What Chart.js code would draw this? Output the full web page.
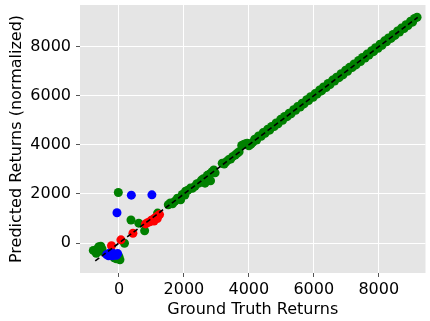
<!DOCTYPE html>
<html>
<head>
<meta charset="utf-8">
<script src="https://cdn.jsdelivr.net/npm/chart.js@4/dist/chart.umd.min.js"></script>
<style>
  html, body { margin: 0; padding: 0; background: #ffffff; }
  #wrap { width: 430px; height: 321px; }
</style>
</head>
<body>
<div id="wrap"><canvas id="grafico" width="430" height="321"></canvas></div>
<script>

// ticks dos eixos
const xTicks = [0, 2000, 4000, 6000, 8000];
const yTicks = [0, 2000, 4000, 6000, 8000];

// pontos verdes (retornos reais x previstos)
const verdeX = [
  -790, -720, -680, -620, -560, -700, -600, -520, -150, -80, 30, 0, 170, -20, 370, 610, 790, 1190,
  1520, 1580, 1650, 1720, 1800, 1880, 1900, 1950, 2030, 2050, 2120, 2200, 2260, 2340, 2400, 2480,
  2540, 2600, 2650, 2680, 2720, 2780, 2820, 2860, 2920, 2960, 3180, 3240, 3300, 3380, 3440, 3500,
  3580, 3640, 3700, 3780, 3840, 3900, 3950, 4000, 4060, 4120,
  4180, 4240, 4300, 4380, 4440, 4500, 4580, 4640, 4700, 4780, 4840, 4900, 4980, 5040, 5100, 5180,
  5240, 5300, 5380, 5440, 5500, 5580, 5640, 5700, 5780, 5840, 5900, 5980, 6040, 6100, 6180, 6240,
  6300, 6380, 6440, 6500, 6580, 6640, 6700, 6780, 6840, 6900, 6980, 7040, 7100, 7180, 7240, 7300,
  7380, 7440, 7500, 7580, 7640, 7700, 7780, 7840, 7900, 7980, 8040, 8100, 8180, 8240, 8300, 8380,
  8440, 8500, 8580, 8640, 8700, 8780, 8840, 8900, 8980, 9040, 9100, 9180
];
const verdeY = [
  -300, -350, -250, -150, -130, -420, -330, -250, -600, -640, -680, -560, -10, 2060, 940, 810, 500, 1220,
  1560, 1630, 1600, 1700, 1830, 1790, 1760, 1980, 1960, 2110, 2150, 2240, 2230, 2310, 2420, 2450,
  2560, 2620, 2440, 2650, 2760, 2800, 2540, 2900, 2980, 2860, 3250, 3220, 3310, 3400, 3420, 3520,
  3590, 3660, 3720, 3980, 4020, 4050, 4070, 3960, 4020, 4100,
  4230, 4200, 4360, 4350, 4500, 4470, 4640, 4600, 4750, 4750, 4890, 4860, 5040, 5000, 5160, 5150,
  5290, 5270, 5430, 5410, 5560, 5540, 5700, 5670, 5840, 5810, 5960, 5940, 6090, 6070, 6240, 6200,
  6360, 6340, 6500, 6460, 6640, 6600, 6760, 6740, 6900, 6860, 7040, 7000, 7160, 7150, 7300, 7260,
  7440, 7400, 7560, 7540, 7700, 7660, 7840, 7800, 7960, 7940, 8100, 8060, 8240, 8200, 8360, 8340,
  8500, 8460, 8640, 8600, 8760, 8740, 8900, 8860, 9040, 9000, 9150, 9200
];

// pontos vermelhos
const vermelhoX = [-230, 60, 430, 820, 880, 950, 1000, 1050, 1100, 1150, 1200, 1250, 1080, 1180];
const vermelhoY = [-110, 130, 400, 780, 830, 870, 930, 960, 1010, 1060, 1110, 1160, 900, 1000];

// pontos azuis
const azulX = [-61, 381, 1014, -380, -320, -260, -200, -140, -80, -40, -300, -180];
const azulY = [1233, 1953, 1965, -470, -520, -480, -520, -470, -500, -430, -420, -420];

// linha tracejada y = x
const linhaX = [-730, 9200];
const linhaY = [-730, 9200];

const pares = (xs, ys) => xs.map((x, i) => ({x: x, y: ys[i]}));

//Pinta o fundo cinza da área do gráfico (estilo ggplot)
const fundoCinza = {
    id: 'fundoCinza',
    beforeDraw(chart) {
        const {ctx, chartArea} = chart;
        ctx.save();
        ctx.fillStyle = '#E5E5E5';
        ctx.fillRect(chartArea.left, chartArea.top, chartArea.right - chartArea.left, chartArea.bottom - chartArea.top);
        ctx.restore();
    }
};

const fonte = {family: 'DejaVu Sans', size: 16};
const raio = 4.5;

new Chart(document.getElementById('grafico').getContext('2d'), {
    type: 'scatter',
    data: {
        datasets: [
            {
                data: pares(linhaX, linhaY),
                showLine: true,
                borderColor: '#000000',
                borderWidth: 1.6,
                borderDash: [5, 3],
                pointRadius: 0,
                order: 0
            },
            {
                data: pares(azulX, azulY),
                backgroundColor: '#0000FF',
                pointRadius: raio,
                borderWidth: 0,
                order: 1
            },
            {
                data: pares(vermelhoX, vermelhoY),
                backgroundColor: '#FF0000',
                pointRadius: raio,
                borderWidth: 0,
                order: 2
            },
            {
                data: pares(verdeX, verdeY),
                backgroundColor: '#008000',
                pointRadius: raio,
                borderWidth: 0,
                order: 3
            }
        ]
    },
    options: {
        responsive: false,
        animation: false,
        layout: {padding: {top: 5, right: 4, left: 0, bottom: 0}},
        plugins: {
            legend: {display: false},
            tooltip: {enabled: false}
        },
        scales: {
            x: {
                type: 'linear',
                min: -1200,
                max: 9440,
                afterBuildTicks: (eixo) => { eixo.ticks = xTicks.map(v => ({value: v})); },
                afterFit: (eixo) => { eixo.height = 48; eixo.paddingLeft = 0; eixo.paddingRight = 0; },
                grid: {color: '#FFFFFF', lineWidth: 1, tickColor: '#555555', tickLength: 4},
                border: {display: false},
                ticks: {color: '#000000', font: fonte, padding: 3, maxRotation: 0, callback: (v) => String(v)},
                title: {display: true, text: 'Ground Truth Returns', color: '#000000', font: fonte, padding: {top: 0, bottom: 2}}
            },
            y: {
                type: 'linear',
                min: -1220,
                max: 9700,
                afterBuildTicks: (eixo) => { eixo.ticks = yTicks.map(v => ({value: v})); },
                afterFit: (eixo) => { eixo.width = 80; eixo.paddingTop = 0; eixo.paddingBottom = 0; },
                grid: {color: '#FFFFFF', lineWidth: 1, tickColor: '#555555', tickLength: 4},
                border: {display: false},
                ticks: {color: '#000000', font: fonte, padding: 5, callback: (v) => String(v)},
                title: {display: true, text: 'Predicted Returns (normalized)', color: '#000000', font: fonte, padding: {top: 7, bottom: 0}}
            }
        }
    },
    plugins: [fundoCinza]
});
</script>
</body>
</html>
